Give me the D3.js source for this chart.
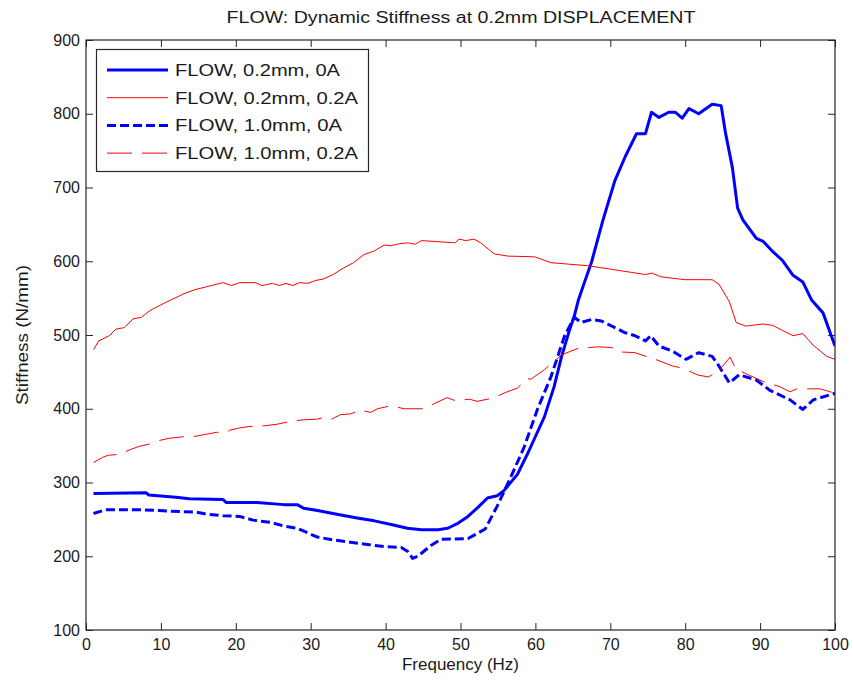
<!DOCTYPE html>
<html>
<head>
<meta charset="utf-8">
<script src="https://cdn.jsdelivr.net/npm/d3@7"></script>
<style>
  body { margin: 0; background: #fff; }
  svg { display: block; }
</style>
</head>
<body>
<div id="chart"></div>
<script>
const width = 854;
const height = 683;
const margin = { top: 40, right: 19, bottom: 53, left: 86 };

// FLOW, 0.2mm, 0A
const freqA = [1, 8, 8.4, 12, 13.8, 18.3, 18.7, 22.8, 26.4, 28.2, 29.1, 30.9, 33.5, 36.2, 38.5, 41.2, 42.9, 44.8, 47, 48.3, 49.7, 51, 52.4, 53.6, 54.9, 55.8, 57.6, 59, 61.2, 62.5, 63.5, 64.5, 65.2, 65.7, 66.5, 67.5, 69, 70.6, 72, 73.5, 74.7, 75.5, 76.5, 77.8, 78.7, 79.6, 80.5, 81.8, 83.6, 84.8, 85.4, 86.3, 87, 87.7, 89.5, 90.4, 91.7, 93, 94.4, 95.7, 96.9, 98.4, 100];
const stiffA = [285, 286, 283, 280, 278, 277, 273, 273, 270, 270, 265, 262, 257, 252, 248, 242, 238, 236, 236, 238, 245, 254, 267, 279, 282, 289, 311, 340, 389, 430, 471, 505, 526, 546, 570, 599, 655, 709, 742, 773, 773, 802, 795, 802, 802, 794, 807, 800, 813, 811, 773, 727, 672, 656, 631, 627, 613, 601, 581, 572, 547, 530, 485];

// FLOW, 0.2mm, 0.2A
const freqB = [1, 1.7, 3.1, 4, 5.1, 6.3, 7.4, 8.5, 10.8, 13.1, 14.4, 16.7, 18.3, 19.4, 20.5, 22.6, 23.5, 24.9, 25.8, 26.7, 27.6, 28.5, 29.6, 30.7, 31.7, 33, 34.4, 35.7, 37.1, 38.5, 39.8, 40.7, 41.9, 43, 43.9, 44.8, 49.3, 49.8, 50.7, 51.8, 52.7, 54.5, 56.3, 59.9, 62.1, 67, 70.2, 74.7, 75.6, 76.7, 79.1, 80, 83.6, 84.5, 85.9, 86.8, 88.1, 90.4, 91.7, 94.4, 95.7, 97.1, 98.9, 100];
const stiffB = [480, 492, 499, 508, 510, 522, 524, 533, 545, 556, 561, 567, 571, 567, 571, 571, 567, 570, 567, 570, 567, 571, 570, 574, 576, 582, 591, 598, 609, 614, 622, 621, 624, 625, 623, 628, 625, 630, 628, 630, 625, 610, 607, 606, 598, 594, 589, 582, 584, 579, 576, 575, 575, 569, 545, 517, 512, 515, 513, 499, 502, 486, 471, 467];

// FLOW, 1.0mm, 0A
const freqC = [1, 2.6, 7.5, 9.8, 11.1, 14.7, 16.1, 18.3, 20.5, 22.3, 24.6, 26.4, 28.2, 29.1, 30.9, 33.1, 35.3, 37.6, 39.8, 42.1, 43, 43.6, 44.3, 46.1, 47.4, 51, 51.9, 53.3, 54.9, 56.7, 58.5, 60.3, 62.1, 63.9, 65.2, 66.1, 67.5, 68.8, 70.2, 72, 73.3, 74.7, 75.4, 76.5, 78.3, 80.1, 81.8, 83.6, 84.5, 85.9, 87.2, 89.5, 91.3, 94, 95.7, 97.1, 100];
const stiffC = [258, 263, 263, 262, 261, 260, 257, 255, 254, 249, 246, 241, 238, 234, 226, 222, 219, 216, 213, 212, 206, 197, 200, 215, 223, 224, 229, 237, 268, 307, 348, 400, 444, 499, 524, 517, 521, 519, 512, 503, 499, 492, 499, 485, 478, 467, 476, 471, 458, 435, 446, 439, 425, 412, 399, 412, 421];

// FLOW, 1.0mm, 0.2A
const freqD = [1, 2.2, 3, 4.4, 6, 7.1, 8.4, 9.8, 11.1, 12.9, 14.3, 15.8, 17.4, 18.7, 19.2, 20.5, 21.9, 23.9, 25.5, 27.3, 29.1, 30.9, 31.7, 32.6, 34, 35.3, 36.7, 38, 38.9, 39.8, 40.7, 41.6, 42.5, 45.2, 46.5, 48.2, 49.3, 51.2, 52.2, 54.5, 56, 57.6, 58.9, 59.4, 61.2, 63.5, 65.7, 68.4, 70.2, 71.5, 73.3, 76, 78.3, 79.7, 81.6, 83.1, 84.5, 86, 86.7, 88, 90.4, 92.6, 94, 94.9, 96.6, 98, 100];
const stiffD = [327, 334, 337, 338, 345, 349, 352, 357, 360, 362, 362, 365, 368, 368, 371, 374, 376, 377, 379, 383, 385, 386, 388, 385, 392, 393, 398, 395, 400, 402, 404, 402, 400, 400, 407, 415, 411, 413, 410, 415, 422, 428, 441, 440, 453, 473, 482, 484, 483, 477, 476, 467, 458, 455, 446, 443, 452, 470, 455, 448, 437, 430, 423, 427, 427, 427, 421];

const xTicks = [0, 10, 20, 30, 40, 50, 60, 70, 80, 90, 100];
const yTicks = [100, 200, 300, 400, 500, 600, 700, 800, 900];

const series = [
  { name: "FLOW, 0.2mm, 0A", x: freqA, y: stiffA, color: "#0000ff", w: 3, dash: null, textW: 165 },
  { name: "FLOW, 0.2mm, 0.2A", x: freqB, y: stiffB, color: "#ff0000", w: 1, dash: null, textW: 183 },
  { name: "FLOW, 1.0mm, 0A", x: freqC, y: stiffC, color: "#0000ff", w: 3, dash: "9,4", textW: 167 },
  { name: "FLOW, 1.0mm, 0.2A", x: freqD, y: stiffD, color: "#ff0000", w: 1, dash: "25,10", textW: 183 }
];

const font = "'Liberation Sans', Arial, sans-serif";

const svg = d3.select("#chart").append("svg")
  .attr("width", width).attr("height", height)
  .style("font-family", font);

const x = d3.scaleLinear().domain([0, 100]).range([margin.left, width - margin.right]);
const y = d3.scaleLinear().domain([100, 900]).range([height - margin.bottom, margin.top]);

svg.append("defs").append("clipPath").attr("id", "plotclip")
  .append("rect")
  .attr("x", x(0)).attr("y", y(900))
  .attr("width", x(100) - x(0)).attr("height", y(100) - y(900));

// axes, ticks inside on all four sides (MATLAB box on)
const tickLen = 7;
const axisColor = "#262626";

const gx = svg.append("g").attr("transform", `translate(0,${y(100)})`)
  .call(d3.axisBottom(x).tickValues(xTicks).tickSizeInner(-tickLen).tickSizeOuter(0).tickPadding(9));
const gxTop = svg.append("g").attr("transform", `translate(0,${y(900)})`)
  .call(d3.axisTop(x).tickValues(xTicks).tickSizeInner(-tickLen).tickSizeOuter(0).tickFormat(""));
const gy = svg.append("g").attr("transform", `translate(${x(0)},0)`)
  .call(d3.axisLeft(y).tickValues(yTicks).tickSizeInner(-tickLen).tickSizeOuter(0).tickPadding(6));
const gyRight = svg.append("g").attr("transform", `translate(${x(100)},0)`)
  .call(d3.axisRight(y).tickValues(yTicks).tickSizeInner(-tickLen).tickSizeOuter(0).tickFormat(""));

[gx, gxTop, gy, gyRight].forEach(g => {
  g.select(".domain").remove();
  g.selectAll(".tick line").attr("stroke", axisColor);
  g.selectAll("text").attr("fill", "#1a1a1a").style("font-size", "16px").style("font-family", font);
});

// data lines
const plot = svg.append("g").attr("clip-path", "url(#plotclip)");
series.forEach(s => {
  const pts = s.x.map((d, i) => [d, s.y[i]]);
  plot.append("path")
    .datum(pts)
    .attr("fill", "none")
    .attr("stroke", s.color)
    .attr("stroke-width", s.w)
    .attr("stroke-dasharray", s.dash)
    .attr("stroke-linejoin", "round")
    .attr("d", d3.line().x(d => x(d[0])).y(d => y(d[1])));
});

// frame
svg.append("rect")
  .attr("x", x(0)).attr("y", y(900))
  .attr("width", x(100) - x(0)).attr("height", y(100) - y(900))
  .attr("fill", "none").attr("stroke", axisColor).attr("stroke-width", 1.2);

// title
svg.append("text")
  .attr("x", 461).attr("y", 23)
  .attr("text-anchor", "middle")
  .attr("textLength", 469).attr("lengthAdjust", "spacingAndGlyphs")
  .style("font-size", "16px").attr("fill", "#1a1a1a")
  .text("FLOW: Dynamic Stiffness at 0.2mm DISPLACEMENT");

// axis labels
svg.append("text")
  .attr("x", x(50)).attr("y", 670)
  .attr("text-anchor", "middle")
  .attr("textLength", 117).attr("lengthAdjust", "spacingAndGlyphs")
  .style("font-size", "16px").attr("fill", "#1a1a1a")
  .text("Frequency (Hz)");

svg.append("text")
  .attr("transform", `translate(28,${(y(100) + y(900)) / 2}) rotate(-90)`)
  .attr("text-anchor", "middle")
  .attr("textLength", 140).attr("lengthAdjust", "spacingAndGlyphs")
  .style("font-size", "16px").attr("fill", "#1a1a1a")
  .text("Stiffness (N/mm)");

// legend
const legend = svg.append("g");
legend.append("rect")
  .attr("x", 96.5).attr("y", 49.5).attr("width", 272).attr("height", 122)
  .attr("fill", "#fff").attr("stroke", axisColor).attr("stroke-width", 1.2);

series.forEach((s, i) => {
  const ly = 70 + i * 27.7;
  legend.append("line")
    .attr("x1", 107).attr("x2", 168).attr("y1", ly).attr("y2", ly)
    .attr("stroke", s.color).attr("stroke-width", s.w)
    .attr("stroke-dasharray", s.dash);
  legend.append("text")
    .attr("x", 175).attr("y", ly + 6)
    .attr("textLength", s.textW).attr("lengthAdjust", "spacingAndGlyphs")
    .style("font-size", "16px").attr("fill", "#1a1a1a")
    .text(s.name);
});
</script>
</body>
</html>
